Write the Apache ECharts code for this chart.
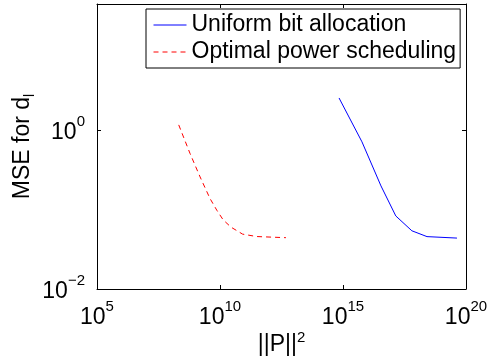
<!DOCTYPE html>
<html>
<head>
<meta charset="utf-8">
<script src="https://cdn.jsdelivr.net/npm/echarts@6/dist/echarts.min.js"></script>
<style>
  html, body { margin: 0; padding: 0; background: #fff; }
  #chart { width: 494px; height: 360px; }
</style>
</head>
<body>
<div id="chart"></div>
<script>
// values (log-log plot)
var uniformX = [6.9e14, 5.9e15, 3.5e16, 1.4e17, 6.3e17, 2.6e18, 4.3e19];
var uniformY = [2.53, 0.71, 0.198, 0.083, 0.054, 0.0456, 0.0437];
var optimalX = [2.1e8, 6.0e8, 1.55e9, 3.9e9, 7.4e9, 1.35e10, 2.8e10, 8.3e10, 3.1e11, 4.8e12];
var optimalY = [1.16, 0.51, 0.257, 0.138, 0.098, 0.074, 0.060, 0.049, 0.0457, 0.0442];
var seriesNames = ['Uniform bit allocation', 'Optimal power scheduling'];
var xRange = [1e5, 1e20];
var yRange = [1e-2, 38.5];

var font = '"Liberation Sans", Arial, Helvetica, sans-serif';

function pairs(xs, ys) {
  var out = [];
  for (var i = 0; i < xs.length; i++) {
    out.push([xs[i], ys[i]]);
  }
  return out;
}

// 10^n labels, only on whole powers
function powLabel(v) {
  var e = Math.log10(v);
  var r = Math.round(e);
  if (Math.abs(e - r) > 1e-6) return '';
  var exp = r < 0 ? '\u2212' + (-r) : '' + r;
  return '{b|10}{s|' + exp + '}';
}

var powRich = {
  b: { fontSize: 23, fontFamily: font, color: '#000', verticalAlign: 'bottom' },
  s: { fontSize: 15, fontFamily: font, color: '#000', verticalAlign: 'top', lineHeight: 30 }
};

var boxLine = { show: true, lineStyle: { color: '#000', width: 1 } };
var inTick = { show: true, inside: true, length: 4, lineStyle: { color: '#000', width: 1 } };

var chart = echarts.init(document.getElementById('chart'), null, { renderer: 'canvas' });

var option = {
  animation: false,
  backgroundColor: '#fff',
  grid: {
    left: 97,
    right: 28,
    top: 4,
    bottom: 71,
    outerBoundsMode: 'none'
  },
  legend: {
    orient: 'vertical',
    left: 146,
    top: 9,
    padding: [4, 4, 4, 7],
    itemGap: 3,
    itemWidth: 33,
    itemHeight: 14,
    borderColor: '#000',
    borderWidth: 1,
    selectedMode: false,
    itemStyle: { opacity: 0 },
    lineStyle: { width: 1 },
    textStyle: { fontSize: 23, fontFamily: font, color: '#000', lineHeight: 24 },
    data: seriesNames
  },
  xAxis: [
    {
      type: 'log',
      logBase: 1e5,
      min: xRange[0],
      max: xRange[1],
      position: 'bottom',
      axisLine: boxLine,
      axisTick: inTick,
      splitLine: { show: false },
      axisLabel: { formatter: powLabel, rich: powRich, margin: 10 },
      name: '||P||{s|2}',
      nameLocation: 'middle',
      nameGap: 41,
      nameMoveOverlap: false,
      nameTextStyle: {
        fontSize: 23, fontFamily: font, color: '#000',
        rich: {
          s: { fontSize: 15, fontFamily: font, color: '#000', verticalAlign: 'top', lineHeight: 30 }
        }
      }
    },
    {
      type: 'log',
      logBase: 1e5,
      min: xRange[0],
      max: xRange[1],
      position: 'top',
      axisLine: boxLine,
      axisTick: inTick,
      splitLine: { show: false },
      axisLabel: { show: false }
    }
  ],
  yAxis: [
    {
      type: 'log',
      logBase: 100,
      min: yRange[0],
      max: yRange[1],
      position: 'left',
      axisLine: boxLine,
      axisTick: inTick,
      splitLine: { show: false },
      axisLabel: { formatter: powLabel, rich: powRich, margin: 12, padding: [0, 0, 2, 0] },
      name: 'MSE for d{sub|l}',
      nameLocation: 'middle',
      nameRotate: 90,
      nameGap: 60,
      nameMoveOverlap: false,
      nameTextStyle: {
        fontSize: 23, fontFamily: font, color: '#000',
        rich: {
          sub: { fontSize: 14, fontFamily: font, color: '#000', verticalAlign: 'bottom', lineHeight: 28 }
        }
      }
    },
    {
      type: 'log',
      logBase: 100,
      min: yRange[0],
      max: yRange[1],
      position: 'right',
      axisLine: boxLine,
      axisTick: inTick,
      splitLine: { show: false },
      axisLabel: { show: false }
    }
  ],
  series: [
    {
      name: seriesNames[0],
      type: 'line',
      xAxisIndex: 0,
      yAxisIndex: 0,
      symbol: 'none',
      color: '#0000ff',
      lineStyle: { color: '#0000ff', width: 1, type: 'solid' },
      data: pairs(uniformX, uniformY)
    },
    {
      name: seriesNames[1],
      type: 'line',
      xAxisIndex: 0,
      yAxisIndex: 0,
      symbol: 'none',
      color: '#ff0000',
      lineStyle: { color: '#ff0000', width: 1, type: [5, 4] },
      data: pairs(optimalX, optimalY)
    }
  ]
};

chart.setOption(option);
</script>
</body>
</html>
